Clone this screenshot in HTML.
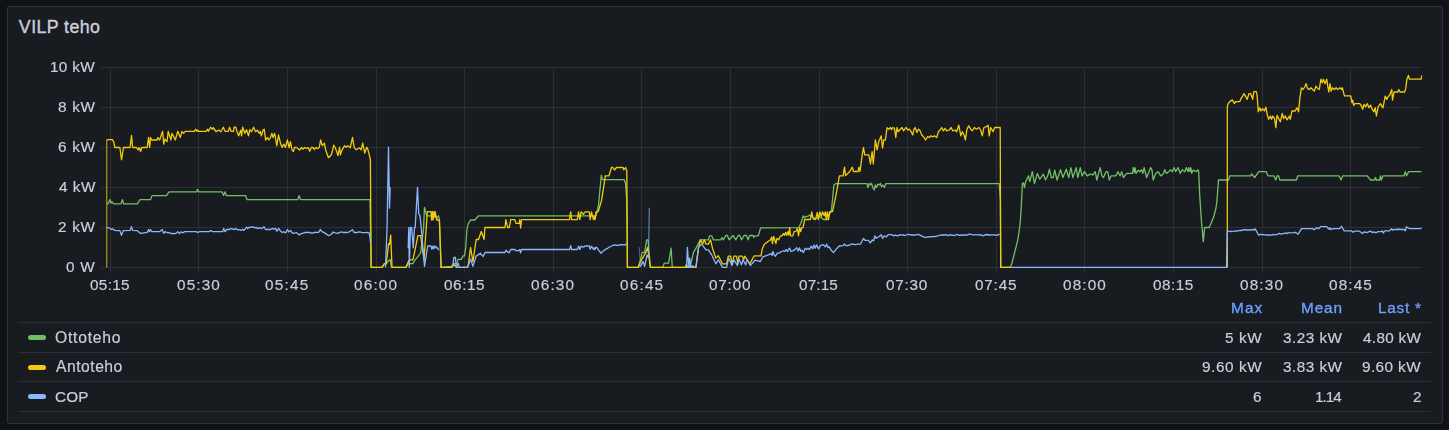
<!DOCTYPE html>
<html><head><meta charset="utf-8"><title>VILP teho</title>
<style>
html,body{margin:0;padding:0;background:#111217;}
body{width:1449px;height:430px;overflow:hidden;position:relative;font-family:"Liberation Sans",sans-serif;color:#ccccdc;}
.panel{position:absolute;left:7px;top:6px;width:1434px;height:416px;background:#181b1f;border:1px solid #2e3136;border-radius:2px;}
svg{position:absolute;left:0;top:0;}
.t{position:absolute;white-space:nowrap;line-height:20px;will-change:transform;}
.tt{will-change:auto;}
.hl{position:absolute;left:18px;width:1413px;height:1px;background:#2b2e34;}
.sw{position:absolute;left:27.8px;width:18.3px;height:5.3px;border-radius:2.65px;}
</style></head><body>
<div class="panel"></div>
<svg width="1449" height="430" viewBox="0 0 1449 430">
<g stroke="#2c3035" stroke-width="1" shape-rendering="crispEdges"><line x1="110.2" y1="67" x2="110.2" y2="272.5"/><line x1="198.8" y1="67" x2="198.8" y2="272.5"/><line x1="287.4" y1="67" x2="287.4" y2="272.5"/><line x1="376.0" y1="67" x2="376.0" y2="272.5"/><line x1="464.6" y1="67" x2="464.6" y2="272.5"/><line x1="553.2" y1="67" x2="553.2" y2="272.5"/><line x1="641.8" y1="67" x2="641.8" y2="272.5"/><line x1="730.4" y1="67" x2="730.4" y2="272.5"/><line x1="819.0" y1="67" x2="819.0" y2="272.5"/><line x1="907.6" y1="67" x2="907.6" y2="272.5"/><line x1="996.2" y1="67" x2="996.2" y2="272.5"/><line x1="1084.8" y1="67" x2="1084.8" y2="272.5"/><line x1="1173.4" y1="67" x2="1173.4" y2="272.5"/><line x1="1262.0" y1="67" x2="1262.0" y2="272.5"/><line x1="1350.6" y1="67" x2="1350.6" y2="272.5"/><line x1="101" y1="67.5" x2="1422" y2="67.5"/><line x1="101" y1="107.5" x2="1422" y2="107.5"/><line x1="101" y1="147.4" x2="1422" y2="147.4"/><line x1="101" y1="187.4" x2="1422" y2="187.4"/><line x1="101" y1="227.3" x2="1422" y2="227.3"/><line x1="101" y1="267.2" x2="1422" y2="267.2"/></g>
<defs><clipPath id="c"><rect x="106.4" y="60" width="1316" height="209"/></clipPath></defs>
<g clip-path="url(#c)">
<path d="M106.6 203.8 L108.0 203.8 L110.0 199.6 L111.0 203.2 L112.0 201.7 L113.5 203.8 L121.0 203.8 L122.4 199.6 L123.6 203.8 L137.3 203.8 L140.0 199.7 L150.5 199.7 L152.0 195.6 L166.5 195.6 L169.0 191.8 L196.5 191.8 L197.5 189.3 L198.5 191.8 L222.0 191.8 L223.6 195.6 L225.0 191.8 L226.4 195.6 L245.5 195.6 L247.0 199.6 L297.8 199.6 L299.0 195.6 L300.5 199.6 L370.0 199.6 L371.2 267.4 L382.1 267.4 L384.4 263.6 L386.3 263.6 L390.0 259.4 L391.5 267.4 L405.8 267.4 L408.5 263.6 L412.8 263.6 L415.1 259.9 L417.5 257.1 L420.7 252.5 L422.1 240.2 L423.5 229.2 L424.5 207.3 L426.8 215.8 L435.6 215.8 L437.0 218.2 L438.6 215.8 L439.4 220.0 L441.0 267.4 L451.5 266.4 L453.4 263.6 L456.6 263.6 L458.0 259.4 L461.3 259.4 L463.1 255.8 L464.5 255.8 L465.7 247.8 L466.9 229.2 L468.3 223.7 L470.6 220.0 L474.8 220.0 L478.5 215.8 L596.0 215.8 L598.5 205.2 L601.3 175.2 L602.4 179.6 L624.0 179.6 L625.6 183.6 L626.8 200.2 L627.4 267.4 L638.8 267.4 L642.2 252.3 L644.6 252.3 L646.6 239.8 L648.0 239.8 L650.4 267.4 L662.9 267.4 L664.2 263.1 L668.6 263.1 L671.1 248.2 L672.3 267.4 L689.3 267.4 L691.0 263.1 L693.5 252.3 L696.0 248.2 L700.1 239.8 L708.4 239.8 L709.5 235.8 L711.7 235.8 L713.4 239.8 L720.8 239.8 L722.0 237.5 L723.3 239.8 L725.8 235.5 L727.4 235.5 L729.1 239.8 L733.2 235.5 L735.7 239.8 L738.2 235.5 L739.8 235.5 L741.5 239.8 L744.0 235.5 L746.5 235.5 L748.1 239.8 L749.8 235.5 L753.1 235.5 L753.9 237.5 L755.0 235.9 L758.3 235.9 L760.6 227.9 L798.7 227.7 L800.7 223.7 L803.4 215.8 L804.3 217.7 L806.0 216.4 L808.0 216.4 L809.3 215.1 L811.3 216.4 L813.3 217.7 L815.3 219.5 L817.3 217.7 L819.3 216.4 L821.3 217.7 L823.3 219.5 L827.9 219.5 L829.5 214.4 L831.5 209.8 L833.9 185.0 L835.6 183.7 L867.0 183.7 L867.9 187.5 L869.2 183.3 L870.4 185.0 L871.5 183.3 L872.8 187.5 L874.2 190.0 L875.3 185.0 L876.5 187.5 L877.8 184.2 L879.1 185.0 L880.3 183.3 L881.5 186.7 L882.8 185.0 L884.4 187.5 L885.8 183.7 L999.2 183.7 L1000.3 200.2 L1000.8 267.4 L1010.4 267.4 L1012.0 263.0 L1015.3 249.8 L1017.8 239.8 L1020.0 225.0 L1021.1 210.1 L1022.4 183.2 L1023.5 183.2 L1024.5 187.5 L1025.5 182.2 L1028.5 175.8 L1029.8 181.7 L1032.3 171.7 L1034.5 183.6 L1037.3 173.4 L1039.8 179.2 L1043.4 174.2 L1045.5 180.0 L1048.0 175.0 L1049.4 169.2 L1051.3 177.5 L1053.3 177.5 L1054.7 170.1 L1057.1 180.0 L1060.5 169.7 L1062.9 177.5 L1066.3 169.2 L1068.7 177.5 L1070.9 167.6 L1072.9 177.5 L1076.2 167.6 L1077.8 177.5 L1080.3 167.6 L1082.0 175.9 L1084.5 171.7 L1087.0 175.9 L1090.3 174.2 L1092.8 175.0 L1095.2 171.7 L1096.9 180.0 L1098.6 173.4 L1100.2 167.6 L1101.9 175.9 L1103.5 177.5 L1106.0 171.7 L1107.7 171.7 L1109.3 180.0 L1111.0 175.9 L1115.9 175.9 L1117.9 171.7 L1120.1 175.9 L1121.7 171.7 L1123.4 177.5 L1126.7 173.4 L1132.5 173.4 L1133.3 167.6 L1134.5 172.5 L1135.0 167.6 L1136.1 173.4 L1138.3 170.1 L1140.0 171.7 L1141.6 169.7 L1142.8 173.4 L1144.1 167.6 L1146.6 177.5 L1148.2 173.4 L1150.7 167.6 L1152.0 170.1 L1153.2 180.0 L1155.7 173.4 L1158.2 171.7 L1160.7 175.9 L1163.1 174.2 L1164.8 169.7 L1166.5 173.4 L1168.9 171.7 L1170.6 169.7 L1172.3 171.7 L1174.2 167.6 L1175.6 171.7 L1178.1 167.6 L1180.2 173.4 L1182.2 169.7 L1184.7 171.7 L1186.3 167.6 L1188.0 171.7 L1188.8 167.6 L1190.1 171.7 L1190.8 167.6 L1191.8 173.4 L1193.0 170.1 L1196.3 171.7 L1197.9 169.7 L1198.7 171.8 L1199.7 195.2 L1201.5 222.2 L1203.3 241.6 L1204.6 227.5 L1209.3 227.5 L1213.7 216.8 L1215.9 208.5 L1217.0 200.2 L1218.5 180.0 L1228.5 180.0 L1229.8 175.8 L1250.5 175.8 L1251.7 173.8 L1254.6 177.5 L1258.8 171.7 L1266.2 171.7 L1267.9 175.8 L1273.7 175.8 L1275.8 180.0 L1277.0 175.8 L1278.6 175.8 L1279.8 180.0 L1296.4 180.0 L1297.7 175.8 L1339.0 175.8 L1341.0 180.0 L1342.7 175.8 L1367.2 175.8 L1370.5 180.0 L1374.5 180.0 L1375.5 177.5 L1376.3 180.0 L1379.6 180.0 L1380.5 175.8 L1381.3 180.0 L1383.0 175.8 L1404.0 175.8 L1405.3 171.7 L1406.6 175.8 L1408.6 171.7 L1421.5 171.7" fill="none" stroke="#73bf69" stroke-width="1.3" stroke-linejoin="round" stroke-linecap="butt"/>
<path d="M106.6 267.4 L106.6 139.7 L112.4 139.7 L113.6 141.7 L114.9 147.5 L119.9 147.5 L121.5 159.8 L123.5 147.5 L130.1 147.5 L131.5 135.3 L132.6 147.5 L136.4 147.5 L138.1 150.0 L139.2 147.5 L140.6 151.6 L141.7 147.5 L147.2 147.5 L148.5 137.5 L149.7 147.5 L150.5 137.5 L151.7 140.0 L157.1 140.0 L157.9 137.5 L159.6 140.0 L162.6 131.3 L163.7 144.1 L164.9 139.2 L167.0 141.7 L168.2 131.3 L170.9 140.0 L172.0 133.3 L175.3 140.0 L177.8 131.3 L180.3 137.5 L182.0 131.3 L183.6 133.3 L185.3 131.3 L194.4 131.3 L195.7 129.2 L196.9 131.3 L197.7 130.1 L198.5 131.3 L206.0 131.3 L207.6 129.2 L208.4 131.3 L210.6 127.2 L212.6 129.2 L213.4 127.6 L215.9 131.7 L219.2 130.1 L220.9 131.7 L223.3 127.2 L225.0 131.3 L228.3 131.3 L229.6 127.2 L231.1 131.3 L233.5 131.3 L234.1 127.2 L235.8 127.2 L237.1 131.7 L238.7 135.8 L240.7 130.1 L241.6 135.8 L242.7 127.2 L244.9 133.3 L246.5 129.7 L248.5 135.8 L249.8 129.7 L251.5 131.7 L253.6 127.2 L255.6 131.7 L257.3 130.1 L259.3 133.3 L260.3 131.3 L261.4 135.8 L263.1 130.1 L264.2 129.2 L265.6 140.0 L267.5 137.5 L268.9 140.0 L270.5 137.5 L271.9 133.3 L273.0 137.5 L274.7 133.3 L276.8 145.8 L278.5 135.0 L280.5 143.2 L282.1 147.5 L283.8 144.1 L285.4 147.5 L287.4 140.0 L289.1 147.5 L290.4 141.7 L292.0 149.8 L293.4 151.6 L294.5 147.5 L296.0 147.5 L298.0 148.5 L299.6 150.1 L301.5 147.5 L302.8 149.2 L304.7 147.5 L306.4 148.4 L308.4 147.6 L309.7 151.3 L311.3 147.5 L312.9 147.5 L314.4 149.5 L315.8 147.5 L317.3 148.6 L319.3 147.5 L320.6 139.8 L322.3 145.7 L324.4 143.2 L325.6 149.8 L328.4 157.7 L331.4 154.8 L333.8 145.2 L335.5 148.2 L338.0 155.6 L339.6 147.2 L340.4 154.8 L342.1 149.8 L344.6 145.7 L346.2 147.2 L347.9 145.7 L350.3 147.8 L352.5 137.3 L354.1 147.2 L356.1 149.8 L359.4 147.8 L361.1 149.8 L362.7 143.2 L364.7 153.1 L366.8 147.2 L368.0 149.8 L369.3 154.8 L370.4 160.2 L371.1 267.4 L382.1 267.4 L384.4 263.6 L386.3 263.6 L388.6 243.6 L389.5 244.6 L390.7 235.2 L392.0 267.4 L405.8 267.4 L409.1 259.9 L412.8 259.9 L414.7 251.6 L417.9 235.7 L420.7 235.7 L424.0 259.9 L427.3 211.6 L431.0 211.6 L431.6 220.0 L432.4 211.6 L433.0 220.0 L434.0 211.6 L434.7 217.2 L435.2 211.6 L436.6 220.0 L439.4 220.0 L441.2 267.4 L451.5 267.4 L454.3 264.6 L456.5 267.4 L467.3 267.4 L468.3 264.5 L470.6 247.3 L472.9 261.8 L476.2 239.5 L478.5 239.5 L481.3 231.5 L484.1 239.5 L484.9 227.5 L505.0 227.5 L505.8 219.7 L507.7 227.5 L509.4 227.5 L510.7 219.7 L514.8 219.7 L516.0 223.3 L519.0 223.3 L519.8 219.7 L520.6 228.0 L521.5 219.7 L569.5 219.7 L570.7 211.8 L571.6 219.7 L577.3 219.7 L578.6 211.8 L579.8 219.7 L581.1 211.8 L583.5 214.2 L585.2 211.8 L589.3 211.8 L590.2 219.7 L591.5 211.8 L593.5 219.7 L594.3 215.8 L595.1 219.7 L596.0 211.8 L597.6 211.8 L598.3 211.2 L601.6 200.2 L604.0 184.8 L605.2 175.8 L609.0 175.8 L611.5 167.5 L613.0 167.5 L614.5 170.0 L616.5 167.5 L623.1 167.5 L623.9 170.0 L625.6 167.5 L626.8 170.2 L627.4 267.4 L638.0 267.4 L639.7 262.9 L645.5 253.2 L647.6 247.3 L650.4 267.4 L685.2 267.4 L686.5 264.1 L687.6 267.4 L696.0 267.4 L698.5 248.2 L700.6 239.8 L702.6 244.1 L704.2 239.8 L705.9 244.1 L708.4 244.1 L710.5 239.8 L712.5 248.2 L715.8 258.1 L718.3 255.7 L722.5 263.8 L726.6 263.8 L728.3 256.1 L730.7 256.1 L732.0 263.8 L734.0 256.1 L736.5 256.1 L737.8 263.8 L739.0 256.1 L742.3 256.1 L743.6 259.8 L744.8 256.1 L749.8 263.8 L754.0 256.1 L755.0 255.8 L761.0 255.8 L762.3 248.9 L764.3 244.2 L766.3 242.9 L768.3 241.2 L770.6 239.9 L771.6 237.0 L772.5 243.6 L773.6 236.3 L774.9 240.3 L775.9 243.6 L776.9 238.3 L778.6 239.9 L780.2 236.3 L782.2 235.4 L783.5 233.6 L784.4 235.4 L785.7 232.3 L786.8 235.4 L787.9 231.7 L788.8 235.0 L789.7 227.7 L790.5 235.9 L792.8 235.9 L794.1 231.7 L796.4 231.0 L797.4 228.3 L798.5 235.9 L799.8 227.7 L800.7 231.7 L801.7 227.7 L803.0 227.7 L804.7 219.5 L810.4 219.5 L811.7 211.8 L813.1 218.4 L814.4 219.5 L816.0 217.7 L817.3 212.4 L818.4 219.5 L819.9 211.8 L821.3 216.4 L822.6 211.8 L824.2 215.8 L825.2 211.8 L826.3 219.5 L827.2 211.8 L828.6 219.5 L829.5 211.8 L832.5 211.5 L836.0 195.2 L839.4 175.8 L843.1 175.8 L844.5 167.2 L845.6 175.6 L849.8 171.5 L852.3 167.2 L853.5 171.5 L858.0 171.5 L858.9 167.2 L860.0 171.5 L862.2 154.8 L863.5 147.5 L864.7 154.8 L868.8 154.8 L870.5 164.0 L872.1 151.6 L873.3 164.0 L875.4 140.0 L877.1 149.8 L878.7 141.7 L879.5 140.0 L881.2 135.8 L882.5 148.2 L883.7 140.0 L885.4 140.0 L887.0 127.6 L888.7 129.2 L890.4 127.5 L891.5 129.7 L892.8 127.5 L894.5 128.4 L895.8 137.5 L897.0 127.5 L898.1 131.7 L900.3 129.2 L902.0 127.5 L903.6 130.9 L905.8 127.5 L907.8 130.0 L909.4 129.2 L911.1 131.7 L912.7 135.0 L914.0 129.2 L915.2 127.5 L916.9 132.5 L918.5 129.2 L919.7 130.0 L921.8 135.0 L923.5 136.7 L925.6 140.0 L927.6 136.7 L929.3 137.5 L930.9 135.8 L932.6 137.0 L934.3 135.8 L936.7 137.5 L938.4 131.7 L940.1 130.0 L941.7 127.5 L943.4 130.9 L945.0 128.4 L946.7 130.9 L949.2 130.0 L951.1 127.5 L952.8 130.9 L955.0 130.0 L956.6 131.7 L958.8 125.1 L960.8 135.8 L962.4 131.7 L964.1 135.0 L965.4 140.0 L967.0 129.2 L968.7 125.9 L970.7 129.2 L972.3 130.9 L974.3 127.5 L976.5 129.2 L979.0 127.5 L980.6 130.0 L982.3 135.8 L983.9 127.5 L986.4 126.7 L988.1 125.1 L989.2 135.8 L990.6 127.5 L993.1 131.7 L994.7 127.5 L1000.2 127.5 L1000.7 267.4 L1011.5 267.4 M1227.3 267.4 L1227.3 133.4 L1227.3 106.9 L1228.2 103.6 L1229.5 101.9 L1232.3 99.9 L1234.5 103.6 L1235.6 101.6 L1239.8 101.6 L1241.4 97.8 L1242.7 96.1 L1243.9 93.6 L1245.5 96.1 L1247.2 99.4 L1248.9 93.6 L1250.5 93.6 L1251.7 96.1 L1252.7 99.4 L1253.8 91.6 L1256.3 91.6 L1257.1 95.3 L1258.3 111.8 L1259.6 107.7 L1261.0 111.0 L1262.6 108.5 L1264.3 111.0 L1265.9 107.2 L1266.7 111.8 L1267.6 116.0 L1268.7 119.3 L1270.4 116.0 L1271.6 119.3 L1272.9 116.0 L1274.5 118.5 L1275.9 127.6 L1277.0 115.2 L1278.7 118.5 L1280.3 121.8 L1282.3 113.5 L1283.6 118.5 L1285.3 116.0 L1287.0 119.8 L1289.4 116.0 L1290.3 119.3 L1291.9 111.0 L1295.2 111.0 L1296.9 107.7 L1298.6 111.8 L1299.9 97.8 L1301.4 87.8 L1303.0 89.5 L1304.7 87.0 L1306.0 83.7 L1307.7 88.7 L1309.3 89.5 L1311.0 87.8 L1312.6 89.5 L1314.3 91.1 L1315.9 86.2 L1317.9 88.7 L1319.3 89.5 L1320.9 79.2 L1322.2 82.9 L1323.4 79.2 L1325.1 83.7 L1326.7 79.2 L1327.9 87.0 L1328.9 92.0 L1330.0 83.7 L1331.2 91.1 L1332.5 87.8 L1334.5 89.5 L1336.1 87.8 L1337.8 89.5 L1340.0 87.8 L1341.6 89.5 L1342.4 87.8 L1344.4 95.8 L1350.7 95.8 L1352.0 102.7 L1352.7 100.2 L1353.7 105.5 L1354.9 103.6 L1359.8 103.6 L1361.5 106.0 L1362.7 109.4 L1364.0 104.4 L1365.6 106.9 L1367.3 103.6 L1368.9 107.7 L1370.6 105.2 L1372.3 109.4 L1373.9 111.8 L1375.2 107.7 L1376.4 116.0 L1378.1 106.9 L1380.5 103.6 L1382.2 106.9 L1383.0 107.7 L1385.2 96.1 L1386.8 99.4 L1388.0 96.9 L1389.6 95.3 L1391.8 89.5 L1392.5 100.2 L1394.1 92.0 L1397.9 92.0 L1398.8 89.5 L1400.1 92.0 L1404.6 92.0 L1405.7 88.7 L1407.0 78.7 L1408.4 75.4 L1409.5 79.2 L1421.1 79.2 L1421.9 75.4" fill="none" stroke="#f2cc0c" stroke-width="1.3" stroke-linejoin="round" stroke-linecap="butt"/>
<path d="M106.6 227.6 L109.9 228.2 L111.3 229.5 L112.4 228.7 L114.9 230.4 L119.9 230.7 L121.5 235.3 L123.2 230.7 L130.1 230.4 L131.5 226.7 L132.6 230.4 L137.3 230.7 L140.6 233.4 L147.2 232.4 L148.5 229.5 L149.4 231.7 L150.5 229.5 L151.7 231.7 L159.6 231.7 L162.1 229.5 L163.8 233.4 L164.9 231.7 L167.9 232.9 L169.6 232.4 L171.2 233.7 L173.7 233.4 L175.4 233.7 L177.8 231.7 L179.5 233.7 L181.2 231.7 L182.8 232.9 L184.5 231.7 L196.1 231.7 L197.7 232.5 L199.4 231.7 L209.3 231.7 L210.6 230.4 L212.6 231.7 L222.6 231.7 L223.7 228.4 L225.1 231.7 L226.7 229.5 L229.2 229.5 L230.8 228.7 L234.2 229.5 L235.5 228.4 L237.8 230.0 L239.1 229.5 L240.8 230.4 L242.8 229.2 L244.1 230.4 L246.6 227.1 L247.7 228.7 L249.1 227.1 L251.6 227.4 L253.2 226.7 L254.9 227.9 L256.5 227.4 L257.7 228.7 L259.8 227.6 L261.5 228.7 L264.0 226.7 L265.6 229.5 L270.6 229.5 L272.3 228.4 L273.9 229.2 L275.6 228.4 L276.9 231.2 L278.6 228.4 L280.2 230.7 L282.2 232.5 L283.9 231.7 L285.5 232.9 L287.5 229.5 L288.8 232.0 L290.5 230.4 L292.1 232.9 L293.8 233.4 L296.3 232.5 L299.3 235.0 L301.2 233.4 L302.9 233.4 L304.6 232.5 L310.4 232.5 L312.0 233.4 L313.7 232.5 L318.6 232.4 L320.3 229.5 L321.9 231.7 L323.9 232.4 L325.3 233.4 L328.6 235.7 L331.1 234.5 L333.2 232.0 L335.2 232.9 L337.7 233.4 L340.0 232.4 L341.5 231.9 L343.3 232.5 L345.4 232.5 L347.3 232.5 L349.3 231.8 L352.5 229.8 L354.0 232.5 L355.5 232.5 L357.1 232.5 L359.0 231.8 L360.3 232.0 L362.2 232.6 L364.1 232.7 L365.7 232.6 L367.1 232.4 L369.3 233.2 L370.0 237.2 L370.5 243.2 M385.5 267.4 L387.0 229.2 L388.5 147.2 L389.5 208.2 L390.2 187.3 M408.2 248.2 L408.8 227.5 L409.3 267.4 L410.4 227.5 L411.6 227.5 L413.3 247.8 L414.4 227.5 L415.2 227.5 L417.5 187.3 L418.7 213.8 L419.8 215.2 L421.2 227.2 L424.5 266.4 L427.7 246.0 L431.0 246.0 L431.9 249.2 L432.9 246.0 L433.8 248.8 L434.9 246.0 L436.6 248.2 L437.0 247.3 L438.3 249.2 L438.8 250.2 M452.7 267.4 L453.8 257.5 L455.4 257.5 L456.3 267.4 L458.2 263.1 L459.4 267.4 L467.8 267.4 L470.6 258.9 L472.9 266.4 L476.2 256.1 L480.4 253.3 L483.2 256.6 L485.0 252.5 L505.0 252.5 L506.0 250.2 L508.3 252.5 L509.4 252.5 L510.7 249.5 L514.8 249.5 L516.0 250.7 L519.0 250.7 L519.8 249.5 L520.6 252.8 L521.5 249.5 L569.5 249.5 L570.7 245.7 L571.6 249.5 L577.3 249.5 L578.6 246.2 L579.8 249.5 L581.1 246.2 L583.5 247.2 L585.2 246.0 L589.3 246.0 L590.2 249.2 L591.5 246.2 L593.5 249.5 L594.3 247.7 L595.1 249.5 L596.0 247.2 L597.0 247.7 L599.0 250.7 L601.3 253.2 L603.0 251.2 L605.0 249.7 L607.0 248.7 L609.0 247.2 L611.0 246.5 L613.0 245.3 L614.8 244.8 L618.0 245.5 L620.0 244.7 L625.6 244.8 L626.3 243.6 M640.3 266.6 L643.0 261.4 L644.6 266.3 L647.1 254.8 L648.5 258.1 M686.6 267.4 L687.4 247.3 L688.8 267.4 L689.7 258.1 L691.0 267.4 L692.5 265.6 L694.0 267.4 L696.0 266.1 L698.5 247.3 L701.8 244.1 L705.9 249.8 L708.4 249.8 L711.7 254.8 L715.8 263.8 L718.3 259.8 L722.5 267.4 L726.6 267.4 L728.7 258.1 L732.0 265.5 L734.0 259.8 L737.4 265.5 L739.0 258.9 L741.5 264.8 L743.1 259.8 L745.6 264.8 L747.3 259.8 L750.3 265.5 L755.0 260.2 L760.3 261.5 L763.0 256.8 L768.3 254.9 L770.9 253.5 L772.0 255.5 L772.9 251.5 L774.2 254.9 L775.5 256.2 L776.9 253.5 L779.5 252.9 L781.5 251.5 L783.5 250.9 L784.8 251.5 L786.1 249.6 L787.5 251.5 L788.8 248.9 L789.7 248.2 L790.8 251.5 L792.8 250.9 L794.8 249.6 L796.7 247.6 L798.1 250.9 L799.4 247.8 L800.7 251.3 L802.1 250.2 L803.4 252.6 L805.1 248.2 L806.7 249.6 L808.0 248.2 L809.3 249.6 L811.3 246.2 L812.7 248.9 L814.0 244.9 L815.3 248.2 L816.6 244.9 L818.6 248.9 L820.6 245.6 L823.3 244.6 L825.2 246.9 L826.6 244.2 L827.9 247.6 L829.2 246.9 L831.2 250.2 L833.5 252.6 L835.8 249.6 L839.2 246.0 L843.1 245.6 L844.5 243.9 L845.8 245.6 L847.8 245.6 L852.4 243.9 L854.4 244.6 L858.4 244.2 L860.4 244.2 L863.4 238.5 L865.0 240.3 L868.3 240.3 L870.3 242.9 L872.3 239.9 L873.6 240.9 L874.9 235.9 L876.3 238.3 L879.6 236.3 L881.2 234.6 L882.5 238.3 L884.2 235.9 L886.2 237.0 L888.2 234.6 L891.5 234.6 L894.2 235.9 L895.5 235.0 L897.5 235.9 L900.0 234.6 L901.8 235.2 L903.1 235.0 L905.0 235.5 L906.3 235.0 L908.0 234.5 L909.9 234.6 L911.8 235.0 L913.8 235.0 L915.4 235.0 L917.1 234.5 L918.8 234.6 L921.0 235.7 L923.5 236.8 L926.0 237.5 L928.0 236.8 L929.5 236.6 L931.2 236.8 L933.2 236.3 L934.8 236.6 L938.5 235.7 L940.8 235.0 L942.5 235.0 L944.3 235.0 L945.9 234.6 L948.0 235.6 L949.3 235.0 L951.1 235.0 L953.1 235.4 L954.9 235.5 L956.7 234.3 L958.4 235.0 L960.2 235.4 L961.9 235.0 L963.6 235.0 L965.7 234.8 L967.2 235.2 L968.8 234.1 L970.4 234.1 L972.0 234.6 L974.1 235.0 L975.7 234.5 L977.3 235.0 L978.6 234.6 L980.0 235.0 L981.7 235.0 L983.5 235.8 L984.8 235.0 L986.6 234.5 L988.6 235.0 L990.3 235.0 L991.7 234.9 L993.7 234.9 L995.4 235.0 L996.9 235.5 L998.5 234.3 L999.6 235.0 M1011.2 267.4 L1226.5 267.4 L1227.3 230.8 L1229.0 231.2 L1230.5 231.5 L1232.5 231.3 L1234.2 231.1 L1235.8 230.8 L1237.3 231.2 L1239.3 230.5 L1241.0 230.5 L1244.4 229.6 L1246.6 230.0 L1248.3 229.8 L1250.1 230.0 L1252.3 229.6 L1254.0 230.0 L1254.7 228.7 L1256.0 230.2 L1258.5 235.0 L1260.0 234.7 L1262.0 234.4 L1263.9 234.9 L1265.3 234.9 L1267.1 235.0 L1268.6 235.2 L1270.1 234.8 L1271.9 235.2 L1273.9 234.4 L1275.7 234.8 L1277.5 234.3 L1279.1 233.4 L1281.2 234.2 L1283.1 233.6 L1285.0 233.0 L1287.0 233.5 L1288.3 232.5 L1289.7 233.0 L1291.0 232.5 L1292.4 233.0 L1294.0 232.5 L1295.7 232.5 L1298.2 234.2 L1301.5 228.7 L1312.5 228.7 L1314.4 229.7 L1316.5 227.7 L1318.5 228.7 L1320.5 226.7 L1326.7 226.7 L1328.8 229.2 L1329.8 227.7 L1330.8 229.7 L1333.0 228.7 L1339.6 228.7 L1341.4 226.3 L1344.2 230.8 L1351.4 230.8 L1353.0 232.2 L1354.5 231.2 L1359.6 231.2 L1362.5 233.6 L1364.3 231.8 L1366.8 232.6 L1370.4 231.1 L1372.5 232.6 L1374.0 231.8 L1376.1 232.8 L1378.1 231.6 L1381.2 231.6 L1382.3 230.8 L1383.3 233.0 L1384.8 230.8 L1389.5 230.8 L1391.7 228.7 L1392.5 230.2 L1393.6 229.5 L1397.7 229.5 L1398.5 228.7 L1399.2 229.5 L1404.4 229.5 L1405.4 230.8 L1406.4 226.7 L1408.0 227.8 L1410.0 228.7 L1420.3 228.7 L1421.5 227.7" fill="none" stroke="#8ab8ff" stroke-width="1.3" stroke-linejoin="round" stroke-linecap="butt"/>
<path d="M639.3 247.3 L640.3 266.6" fill="none" stroke="#8ab8ff" stroke-width="1.1" stroke-opacity="0.45"/>
<path d="M648.5 258.1 L649.3 207.7" fill="none" stroke="#8ab8ff" stroke-width="1.1" stroke-opacity="0.7"/>
</g>
</svg>
<div class="hl" style="top:322px"></div>
<div class="hl" style="top:352px"></div>
<div class="hl" style="top:381px"></div>
<div class="hl" style="top:411px"></div>
<div class="sw" style="top:335px;background:#73bf69"></div>
<div class="sw" style="top:364.9px;background:#f2cc0c"></div>
<div class="sw" style="top:394.1px;background:#8ab8ff"></div>
<div class="t tt" id="title" style="left:18.87px;top:17.20px;font-size:17.8px;letter-spacing:0.416px;color:#ccccdc;-webkit-text-stroke:0.4px #ccccdc;">VILP teho</div>
<div class="t" id="y0" style="left:50.44px;top:57.30px;font-size:15.3px;letter-spacing:0.314px;color:#ccccdc;-webkit-text-stroke:0.2px #ccccdc;">10 kW</div>
<div class="t" id="y1" style="left:57.89px;top:97.30px;font-size:15.3px;letter-spacing:0.724px;color:#ccccdc;-webkit-text-stroke:0.2px #ccccdc;">8 kW</div>
<div class="t" id="y2" style="left:57.63px;top:137.30px;font-size:15.3px;letter-spacing:0.737px;color:#ccccdc;-webkit-text-stroke:0.2px #ccccdc;">6 kW</div>
<div class="t" id="y3" style="left:58.81px;top:177.30px;font-size:15.3px;letter-spacing:0.522px;color:#ccccdc;-webkit-text-stroke:0.2px #ccccdc;">4 kW</div>
<div class="t" id="y4" style="left:57.91px;top:217.30px;font-size:15.3px;letter-spacing:0.736px;color:#ccccdc;-webkit-text-stroke:0.2px #ccccdc;">2 kW</div>
<div class="t" id="y5" style="left:66.45px;top:257.30px;font-size:15.3px;letter-spacing:0.730px;color:#ccccdc;-webkit-text-stroke:0.2px #ccccdc;">0 W</div>
<div class="t" id="x0" style="left:89.97px;top:274.60px;font-size:15.3px;letter-spacing:0.321px;color:#ccccdc;-webkit-text-stroke:0.2px #ccccdc;">05:15</div>
<div class="t" id="x1" style="left:176.70px;top:274.60px;font-size:15.3px;letter-spacing:1.139px;color:#ccccdc;-webkit-text-stroke:0.2px #ccccdc;">05:30</div>
<div class="t" id="x2" style="left:265.30px;top:274.60px;font-size:15.3px;letter-spacing:1.225px;color:#ccccdc;-webkit-text-stroke:0.2px #ccccdc;">05:45</div>
<div class="t" id="x3" style="left:353.56px;top:274.61px;font-size:15.3px;letter-spacing:1.185px;color:#ccccdc;-webkit-text-stroke:0.2px #ccccdc;">06:00</div>
<div class="t" id="x4" style="left:443.62px;top:274.60px;font-size:15.3px;letter-spacing:0.569px;color:#ccccdc;-webkit-text-stroke:0.2px #ccccdc;">06:15</div>
<div class="t" id="x5" style="left:531.01px;top:274.60px;font-size:15.3px;letter-spacing:1.203px;color:#ccccdc;-webkit-text-stroke:0.2px #ccccdc;">06:30</div>
<div class="t" id="x6" style="left:619.87px;top:274.60px;font-size:15.3px;letter-spacing:1.211px;color:#ccccdc;-webkit-text-stroke:0.2px #ccccdc;">06:45</div>
<div class="t" id="x7" style="left:709.25px;top:274.60px;font-size:15.3px;letter-spacing:0.790px;color:#ccccdc;-webkit-text-stroke:0.2px #ccccdc;">07:00</div>
<div class="t" id="x8" style="left:798.85px;top:274.60px;font-size:15.3px;letter-spacing:0.123px;color:#ccccdc;-webkit-text-stroke:0.2px #ccccdc;">07:15</div>
<div class="t" id="x9" style="left:886.37px;top:274.60px;font-size:15.3px;letter-spacing:0.720px;color:#ccccdc;-webkit-text-stroke:0.2px #ccccdc;">07:30</div>
<div class="t" id="x10" style="left:974.73px;top:274.60px;font-size:15.3px;letter-spacing:0.805px;color:#ccccdc;-webkit-text-stroke:0.2px #ccccdc;">07:45</div>
<div class="t" id="x11" style="left:1062.85px;top:274.60px;font-size:15.3px;letter-spacing:1.136px;color:#ccccdc;-webkit-text-stroke:0.2px #ccccdc;">08:00</div>
<div class="t" id="x12" style="left:1152.52px;top:274.60px;font-size:15.3px;letter-spacing:0.499px;color:#ccccdc;-webkit-text-stroke:0.2px #ccccdc;">08:15</div>
<div class="t" id="x13" style="left:1240.00px;top:274.60px;font-size:15.3px;letter-spacing:1.166px;color:#ccccdc;-webkit-text-stroke:0.2px #ccccdc;">08:30</div>
<div class="t" id="x14" style="left:1328.74px;top:274.60px;font-size:15.3px;letter-spacing:1.148px;color:#ccccdc;-webkit-text-stroke:0.2px #ccccdc;">08:45</div>
<div class="t" id="l0" style="left:54.94px;top:328.10px;font-size:15.7px;letter-spacing:0.773px;color:#ccccdc;-webkit-text-stroke:0.2px #ccccdc;">Ottoteho</div>
<div class="t" id="l1" style="left:55.61px;top:357.00px;font-size:15.7px;letter-spacing:0.500px;color:#ccccdc;-webkit-text-stroke:0.2px #ccccdc;">Antoteho</div>
<div class="t" id="l2" style="left:54.83px;top:386.90px;font-size:15.3px;letter-spacing:0.207px;color:#ccccdc;-webkit-text-stroke:0.2px #ccccdc;">COP</div>
<div class="t" id="h0" style="left:1230.62px;top:297.70px;font-size:15.3px;letter-spacing:1.183px;color:#6e9fff;-webkit-text-stroke:0.35px #6e9fff;">Max</div>
<div class="t" id="h1" style="left:1301.43px;top:297.70px;font-size:15.3px;letter-spacing:0.929px;color:#6e9fff;-webkit-text-stroke:0.35px #6e9fff;">Mean</div>
<div class="t" id="h2" style="left:1377.77px;top:297.70px;font-size:15.3px;letter-spacing:0.786px;color:#6e9fff;-webkit-text-stroke:0.35px #6e9fff;">Last *</div>
<div class="t" id="v00" style="left:1225.47px;top:328.00px;font-size:15.3px;letter-spacing:0.586px;color:#ccccdc;-webkit-text-stroke:0.2px #ccccdc;">5 kW</div>
<div class="t" id="v01" style="left:1282.73px;top:328.00px;font-size:15.3px;letter-spacing:0.489px;color:#ccccdc;-webkit-text-stroke:0.2px #ccccdc;">3.23 kW</div>
<div class="t" id="v02" style="left:1362.63px;top:328.00px;font-size:15.3px;letter-spacing:0.311px;color:#ccccdc;-webkit-text-stroke:0.2px #ccccdc;">4.80 kW</div>
<div class="t" id="v10" style="left:1202.20px;top:357.00px;font-size:15.3px;letter-spacing:0.584px;color:#ccccdc;-webkit-text-stroke:0.2px #ccccdc;">9.60 kW</div>
<div class="t" id="v11" style="left:1282.57px;top:357.00px;font-size:15.3px;letter-spacing:0.486px;color:#ccccdc;-webkit-text-stroke:0.2px #ccccdc;">3.83 kW</div>
<div class="t" id="v12" style="left:1362.19px;top:357.00px;font-size:15.3px;letter-spacing:0.418px;color:#ccccdc;-webkit-text-stroke:0.2px #ccccdc;">9.60 kW</div>
<div class="t" id="v20" style="left:1253.20px;top:386.60px;font-size:15.3px;letter-spacing:0.300px;color:#ccccdc;-webkit-text-stroke:0.2px #ccccdc;">6</div>
<div class="t" id="v21" style="left:1315.33px;top:386.60px;font-size:15.3px;letter-spacing:-0.964px;color:#ccccdc;-webkit-text-stroke:0.2px #ccccdc;">1.14</div>
<div class="t" id="v22" style="left:1412.85px;top:386.60px;font-size:15.3px;letter-spacing:0.300px;color:#ccccdc;-webkit-text-stroke:0.2px #ccccdc;">2</div>
</body></html>
